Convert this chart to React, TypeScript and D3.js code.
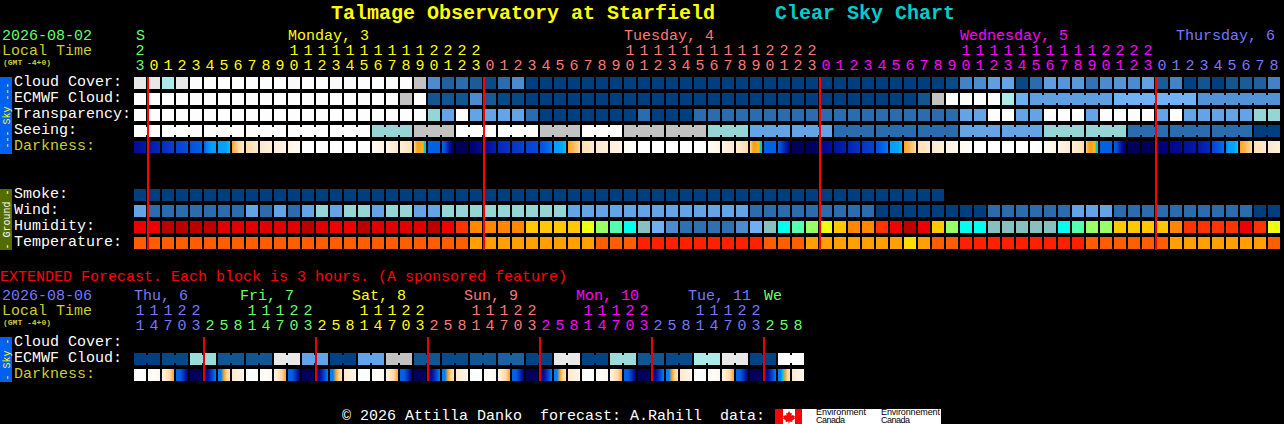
import React from "react";
import * as d3 from "d3";

// ---------- colours ----------
const GREEN = "#66FF66";
const YELLOW = "#FFFF00";
const SALMON = "#FF7777";
const MAGENTA = "#FF00FF";
const BLUE = "#7777FF";
const DIM = "#CCCC33";

const skyLevels = [0, 1, 2, 3, 4, 5, 6, 7, 8, 9, 10];
const skyColors = ["#003F7F", "#13558F", "#2B6CAE", "#4C8BCF", "#63A3E6", "#70B2F4", "#95D5D5", "#AEEAEA", "#C2C2C2", "#E8E8E8", "#FDFDFD"];
const humidityColors = ["#BB0000", "#E00000", "#EE0000", "#FF3300", "#FF8800", "#FFC800", "#EEFF11", "#99FF66", "#55FFB0", "#00FFEE", "#88C0C0", "#70B0F0", "#4C8BCF", "#2F70B0"];
const temperatureColors = ["#FF2000", "#FF5E00", "#FFA000", "#FFDD00"];
const darkLevels = [0, 1, 2, 3, 4, 4.5, 5, 6, 7, 8, 9, 10, 11];
const darkColors = ["#FFFFFF", "#FFF4E6", "#FFE8CC", "#FFD8A0", "#FFA020", "#FFB800", "#00C8E0", "#00A0FF", "#0060E8", "#0840D0", "#0018A8", "#000080", "#000058"];

// ---------- hours and days ----------
const mainHours = [23, 0, 1, 2, 3, 4, 5, 6, 7, 8, 9, 10, 11, 12, 13, 14, 15, 16, 17, 18, 19, 20, 21, 22, 23, 0, 1, 2, 3, 4, 5, 6, 7, 8, 9, 10, 11, 12, 13, 14, 15, 16, 17, 18, 19, 20, 21, 22, 23, 0, 1, 2, 3, 4, 5, 6, 7, 8, 9, 10, 11, 12, 13, 14, 15, 16, 17, 18, 19, 20, 21, 22, 23, 0, 1, 2, 3, 4, 5, 6, 7, 8];
const mainDayStarts = [0, 1, 25, 49, 73];
const mainDayColors = [GREEN, YELLOW, SALMON, MAGENTA, BLUE, BLUE];
const mainDayLabels = ["S", "Monday, 3", "Tuesday, 4", "Wednesday, 5", "Thursday, 6"];
const mainDayLabelCols = [0.14, 11, 35, 59, 74.43];
const mainMidnights = [1, 25, 49, 73];

const extHours = [11, 14, 17, 20, 23, 2, 5, 8, 11, 14, 17, 20, 23, 2, 5, 8, 11, 14, 17, 20, 23, 2, 5, 8, 11, 14, 17, 20, 23, 2, 5, 8, 11, 14, 17, 20, 23, 2, 5, 8, 11, 14, 17, 20, 23, 2, 5, 8];
const extDayStarts = [0, 5, 13, 21, 29, 37, 45];
const extDayColors = [BLUE, GREEN, YELLOW, SALMON, MAGENTA, BLUE, GREEN, GREEN];
const extDayLabels = ["Thu, 6", "Fri, 7", "Sat, 8", "Sun, 9", "Mon, 10", "Tue, 11", "We"];
const extDayLabelCols = [0, 7.57, 15.57, 23.57, 31.57, 39.57, 45];
const extMidnights = [5, 13, 21, 29, 37, 45];

// ---------- sky rows (palette levels) ----------
const cloudCover = [9, 9, 7, 9, 10, 10, 10, 10, 10, 10, 10, 9.8, 10, 10, 9.8, 9.8, 10, 10, 9.8, 10, 8, 3, 1.5, 2, 1.3, 0.5, 2, 3, 0, 0, 0, 0, 0, 0, 0, 0, 0, 0, 0, 0, 0, 0, 0, 0, 0, 0, 0, 0, 0, 0, 0, 0, 0, 0, 0, 0, 0, 0, 0.5, 2.7, 3, 3.8, 4, 0.4, 2, 3.8, 3.4, 3.6, 2.2, 3, 3.4, 3, 3.9, 1.3, 2.7, 0.1, 1, 0, 1, 1.3, 1.5, 2.7];
const ecmwfCloud = [10, 10, 10, 10, 10, 10, 10, 10, 10, 10, 10, 10, 10, 10, 10, 10, 10, 10, 10, 8, 10, 1, 1, 1, 3, 1.2, 0.4, 0.4, 0, 0, 0, 0, 0, 0, 0, 0, 0, 0, 0, 0, 0, 0, 0, 0, 0, 0, 0, 0, 0, 0, 0, 0, 0, 0, 0, 0, 1, 8, 10, 10, 10, 10, 7, 4.8, 3.8, 3.8, 3.8, 3.8, 3.8, 3.8, 5, 5, 5, 5, 5, 5, 3.3, 3.3, 3.3, 3.3, 3.3, 3.3];
const ecmwfGroups = [1, 1, 1, 1, 1, 1, 1, 1, 1, 1, 1, 1, 1, 1, 1, 1, 1, 1, 1, 1, 1, 1, 1, 1, 1, 1, 1, 1, 1, 1, 1, 1, 1, 1, 1, 1, 1, 1, 1, 1, 1, 1, 1, 1, 1, 1, 1, 1, 1, 1, 1, 1, 1, 1, 1, 1, 1, 1, 1, 1, 1, 1, 1, 1, 6, 6, 6];
const transparency = [10, 10, 10, 10, 10, 10, 10, 10, 10, 10, 10, 10, 10, 10, 10, 10, 10, 10, 10, 10, 10, 6, 4, 10, 4, 4, 4, 4, 2, 0, 0, 0, 0, 0, 0, 0, 2, 0, 0, 0, 2, 2, 2, 2, 2, 2, 2, 2, 2, 2, 2, 2, 2, 2, 2, 2, 2, 2, 2, 4, 4, 10, 10, 4, 4, 10, 10, 10, 4, 10, 10, 10, 10, 4, 10, 4, 4, 4, 4, 4, 6, 6];
const seeingBlocks = [10, 10, 10, 10, 10, 10, 6, 8, 10, 10, 8, 10, 8, 8, 6, 4, 4, 2, 2, 2, 4, 4, 6, 6, 2, 2, 2, 0];
const seeingGroups = [2, 3, 3, 3, 3, 3, 3, 3, 3, 3, 3, 3, 3, 3, 3, 3, 3, 3, 3, 3, 3, 3, 3, 3, 3, 3, 3, 2];

// ---------- darkness (several samples across each block) ----------
const darkness: number[][] = [
  [9.5, 9], [9, 8.6], [8.5, 8], [8, 7.5], [7.5, 7], [7, 6.3, 6, 6], [6, 6, 6, 6, 6, 5.5, 5], [4, 3.5, 3, 2.5, 2], [2.8, 2.4, 2], [2, 1.5], [1.5, 1], [1, 0.5],
  [0, 0], [0, 0], [0, 0], [0, 0], [0, 0.1], [0.5, 1.2], [1, 2], [1.5, 2.5], [3, 3.5, 4, 4, 4, 4.5, 4.5, 5, 5], [7, 7], [6.8, 8, 9.5, 11], [11, 11],
  [10.5, 9.5], [9.5, 8.8], [8.6, 8.3], [8.3, 8], [8, 7.7], [7.5, 7, 6.6], [6, 6, 6, 5.6, 5], [4, 3.5, 3], [2.5, 2], [2, 1.5], [1.5, 1], [0.5, 0],
  [0, 0], [0, 0], [0, 0], [0, 0], [0, 0.3], [0.5, 1], [1, 2], [1.5, 2.8], [3, 3.5, 4, 4, 4, 4.5, 4.5, 5, 5], [7, 7], [7, 8.5, 10], [11, 11],
  [11, 10.5], [9.8, 9.3], [9.2, 8.8], [8.7, 8.3], [8.3, 8], [7.6, 7, 6.6], [6, 6, 6, 5.6, 5], [4, 3.5, 3], [2.5, 2], [2, 1.5], [1.2, 0.8], [0.5, 0.2],
  [0, 0], [0, 0], [0, 0], [0, 0], [0, 0.3], [0.5, 1], [1, 1.8], [1.5, 2.6], [3, 3.7, 4, 4, 4, 4.5, 4.5, 5, 5], [7, 7], [7, 8, 9.5, 10.5], [11, 11],
  [11, 11], [10.5, 10], [9.7, 9.5], [9.3, 9], [9, 8.6], [8, 7.3, 6.8], [6.5, 6, 6, 6, 5.5, 5], [4, 3.5, 3], [2.5, 2], [2, 1.5],
];

// ---------- ground rows ----------
const smoke = [0, 0, 0, 0, 0, 0, 0, 0, 0, 0, 0, 0, 0, 0, 0, 0, 0, 0, 0, 0, 0, 0, 0, 0, 0, 0, 0, 0, 0, 0, 0, 0, 0, 0, 0, 0, 0, 0, 0, 0, 0, 0, 0, 0, 0, 0, 0, 0, 0, 0, 0, 0, 0, 0, 0, 0, 0, 0];
const wind = [4, 2, 2, 2, 2, 2, 2, 2, 4, 2, 4, 2, 4, 6, 4, 6, 6, 4, 6, 6, 4, 4, 6, 6, 6, 6, 6, 6, 6, 6, 6, 4, 4, 4, 4, 4, 4, 4, 4, 4, 4, 4, 4, 4, 2, 2, 2, 2, 2, 2, 2, 2, 2, 0, 0, 0, 0, 0, 0, 0, 0, 2, 2, 2, 2, 2, 2, 4, 4, 4, 2, 2, 2, 2, 2, 2, 2, 2, 2, 2, 0, 0];
const humidity = [2, 2, 0, 0, 0, 0, 1, 1, 1, 1, 1, 1, 0, 1, 2, 2, 0, 1, 1, 1, 1, 0, 2, 3, 4, 4, 4, 4, 5, 5, 5, 5, 6, 7, 8, 9, 10, 11, 12, 13, 13, 13, 13, 12, 11, 10, 9, 8, 7, 6, 5, 4, 4, 3, 2, 0, 2, 5, 7, 9, 9, 10, 10, 10, 10, 10, 9, 8, 7, 7, 5, 5, 5, 5, 4, 3, 3, 3, 3, 2, 3, 6];
const temperature = [1, 1, 1, 1, 1, 1, 1, 1, 1, 1, 1, 1, 1, 1, 1, 1, 1, 1, 1, 1, 1, 1, 1, 1, 2, 2, 2, 2, 2, 2, 2, 2, 2, 1, 1, 1, 0, 0, 0, 0, 0, 0, 0, 0, 0, 1, 1, 1, 2, 2, 2, 2, 2, 2, 2, 3, 2, 1, 1, 0, 0, 0, 0, 0, 0, 0, 0, 0, 1, 1, 1, 1, 1, 1, 2, 2, 2, 2, 2, 2, 2, 1];

// ---------- extended forecast ----------
const extCloudBlocks = [0, 0.4, 6.3, 1, 1, 9, 4, 0.1, 4, 8, 1, 0.5, 1, 1.5, 0.2, 9, 0.2, 6.3, 1, 0.5, 7, 9, 0.2, 10];
const extGroups = [2, 2, 2, 2, 2, 2, 2, 2, 2, 2, 2, 2, 2, 2, 2, 2, 2, 2, 2, 2, 2, 2, 2, 2];
const extDarkness: number[][] = [
  [0, 0], [0, 0.7], [1, 2, 3, 4], [7, 7, 8.5, 10.5], [11, 11], [10, 9.5, 8, 6.5], [6.5, 6.5, 4, 3, 2.5], [2, 1.5, 0.7],
  [0, 0], [0, 0.7], [1, 2, 3, 4], [7, 7, 8.5, 10.5], [11, 11], [10, 9.5, 8, 6.5], [6.5, 6.5, 4, 3, 2.5], [2, 1.5, 0.7],
  [0, 0], [0, 0.7], [1, 2, 3, 4], [7, 7, 8.5, 10.5], [11, 11], [10, 9.5, 8, 6.5], [6.5, 6.5, 4, 3, 2.5], [2, 1.5, 0.7],
  [0, 0], [0, 0.7], [1, 2, 3, 4], [7, 7, 8.5, 10.5], [11, 11], [10, 9.5, 8, 6.5], [6.5, 6.5, 4, 3, 2.5], [2, 1.5, 0.7],
  [0, 0], [0, 0.7], [1, 2, 3, 4], [7, 7, 8.5, 10.5], [11, 11], [10, 9.5, 8, 6.5], [6.5, 6.5, 4, 3, 2.5], [2, 1.5, 0.7],
  [0, 0], [0, 0.7], [1, 2, 3, 4], [7, 7, 8.5, 10.5], [11, 11], [10, 9.5, 8, 6.5], [6.5, 6.5, 5, 4, 3, 2.5], [2, 1.2, 0.7],
];

// ---------- scales and helpers ----------
const CELL = 12;
const x = d3.scaleLinear().domain([0, 82]).range([134, 1282]);
const skyColor = d3.scaleLinear<string>().domain(skyLevels).range(skyColors).clamp(true);
const darkColor = d3.scaleLinear<string>().domain(darkLevels).range(darkColors).clamp(true);

const MONO = "'Liberation Mono', 'DejaVu Sans Mono', monospace";

const expand = (blocks: number[], sizes: number[]) =>
  blocks.flatMap((v, i) => d3.range(sizes[i]).map(() => v));

function joinFlags(sizes: number[]): boolean[] {
  const out: boolean[] = [];
  sizes.forEach((s) => d3.range(s).forEach((j) => out.push(j < s - 1)));
  return out;
}

const dayColor = (starts: number[], colors: string[], k: number) =>
  colors[d3.bisectRight(starts, k) - 1];

const T = ({ xx, y, c = "#fff", s = 15, b = false, a, children }: any) => (
  <text x={xx} y={y} fill={c} fontSize={s} fontWeight={b ? "bold" : "normal"} fontFamily={MONO} textAnchor={a} style={{ whiteSpace: "pre" }}>
    {children}
  </text>
);

const Row = ({ y, values, color, joins }: { y: number; values: number[]; color: (v: number) => string; joins?: boolean[] }) => (
  <g>
    {values.map((v, k) => (
      <rect key={k} x={x(k)} y={y} width={CELL} height={CELL} fill={color(v)} shapeRendering="crispEdges" />
    ))}
    {joins &&
      values.map((v, k) =>
        joins[k] ? (
          <rect key={"j" + k} x={x(k) + CELL} y={y + 2} width={x(1) - x(0) - CELL} height={CELL - 4} fill={color(v)} shapeRendering="crispEdges" />
        ) : null
      )}
  </g>
);

const DarkRow = ({ id, y, samples }: { id: string; y: number; samples: number[][] }) => (
  <g>
    <defs>
      {samples.map((s, k) => (
        <linearGradient key={k} id={`${id}${k}`} x1="0" x2="1" y1="0" y2="0">
          {s.map((v, i) => (
            <stop key={i} offset={i / (s.length - 1)} stopColor={darkColor(v)} />
          ))}
        </linearGradient>
      ))}
    </defs>
    {samples.map((_, k) => (
      <rect key={k} x={x(k)} y={y} width={CELL} height={CELL} fill={`url(#${id}${k})`} shapeRendering="crispEdges" />
    ))}
  </g>
);

const SideBar = ({ y, h, fill, c, label }: any) => (
  <g>
    <rect x={0} y={y} width={12} height={h} fill={fill} shapeRendering="crispEdges" />
    <text transform={`translate(9.5,${y + h / 2}) rotate(-90)`} fill={c} fontSize={10} fontFamily={MONO} textAnchor="middle" style={{ whiteSpace: "pre" }}>
      {label}
    </text>
  </g>
);

const Hours = ({ hours, starts, colors, tensY, onesY }: any) => (
  <g>
    {hours.map((h: number, k: number) => {
      const c = dayColor(starts, colors, k);
      return (
        <g key={k}>
          {h >= 10 && <T xx={x(k) + CELL / 2} y={tensY} c={c} a="middle">{Math.floor(h / 10)}</T>}
          <T xx={x(k) + CELL / 2} y={onesY} c={c} a="middle">{h % 10}</T>
        </g>
      );
    })}
  </g>
);

export default function App() {
  const seeing = expand(seeingBlocks, seeingGroups);
  const extCloud = expand(extCloudBlocks, extGroups);
  return (
    <svg width={1284} height={424} viewBox="0 0 1284 424" style={{ position: "absolute", left: 0, top: 0, display: "block", background: "#000" }}>
      <rect width={1284} height={424} fill="#000" />

      <T xx={331} y={19} c={YELLOW} s={20} b>Talmage Observatory at Starfield</T>
      <T xx={775} y={19} c="#00CCCC" s={20} b>Clear Sky Chart</T>

      {/* main header */}
      <T xx={2} y={40} c={GREEN}>2026-08-02</T>
      <T xx={2} y={55} c={DIM}>Local Time</T>
      <T xx={3} y={65} c={DIM} s={8} b>(GMT -4+0)</T>
      {mainDayLabels.map((l, i) => (
        <T key={l} xx={x(mainDayLabelCols[i])} y={40} c={dayColor(mainDayStarts, mainDayColors, mainDayLabelCols[i] < 1 ? 0 : mainDayLabelCols[i])}>{l}</T>
      ))}
      <Hours hours={mainHours} starts={mainDayStarts} colors={mainDayColors} tensY={55} onesY={70} />

      {/* main labels */}
      <SideBar y={77} h={77} fill="#0060F0" c={YELLOW} label="--- Sky ---" />
      <SideBar y={189} h={61} fill="#556B00" c="#fff" label="- Ground -" />
      {["Cloud Cover:", "ECMWF Cloud:", "Transparency:", "Seeing:"].map((l, i) => (
        <T key={l} xx={14} y={86 + 16 * i}>{l}</T>
      ))}
      <T xx={14} y={150} c={DIM}>Darkness:</T>
      {["Smoke:", "Wind:", "Humidity:", "Temperature:"].map((l, i) => (
        <T key={l} xx={14} y={198 + 16 * i}>{l}</T>
      ))}

      {/* main rows */}
      <Row y={77} values={cloudCover} color={skyColor} />
      <Row y={93} values={ecmwfCloud} color={skyColor} joins={joinFlags(ecmwfGroups)} />
      <Row y={109} values={transparency} color={skyColor} />
      <Row y={125} values={seeing} color={skyColor} joins={joinFlags(seeingGroups)} />
      <DarkRow id="dk" y={141} samples={darkness} />
      <Row y={189} values={smoke} color={skyColor} />
      <Row y={205} values={wind} color={skyColor} />
      <Row y={221} values={humidity} color={(v) => humidityColors[v]} />
      <Row y={237} values={temperature} color={(v) => temperatureColors[v]} />

      {mainMidnights.map((k) => (
        <rect key={k} x={x(k) - 1} y={77} width={2} height={173} fill="#FF0000" shapeRendering="crispEdges" />
      ))}

      {/* extended */}
      <T xx={0} y={281} c="#FF0000">EXTENDED Forecast. Each block is 3 hours. (A sponsored feature)</T>
      <T xx={2} y={300} c={BLUE}>2026-08-06</T>
      <T xx={2} y={315} c={DIM}>Local Time</T>
      <T xx={3} y={325} c={DIM} s={8} b>(GMT -4+0)</T>
      {extDayLabels.map((l, i) => (
        <T key={l} xx={x(extDayLabelCols[i])} y={300} c={dayColor(extDayStarts, extDayColors, Math.ceil(extDayLabelCols[i]))}>{l}</T>
      ))}
      <Hours hours={extHours} starts={extDayStarts} colors={extDayColors} tensY={315} onesY={330} />

      <SideBar y={337} h={45} fill="#0060F0" c={YELLOW} label="- Sky -" />
      <T xx={14} y={346}>Cloud Cover:</T>
      <T xx={14} y={362}>ECMWF Cloud:</T>
      <T xx={14} y={378} c={DIM}>Darkness:</T>

      <Row y={353} values={extCloud} color={skyColor} joins={joinFlags(extGroups)} />
      <DarkRow id="ek" y={369} samples={extDarkness} />
      {extMidnights.map((k) => (
        <rect key={k} x={x(k) - 1} y={337} width={2} height={44} fill="#E80000" shapeRendering="crispEdges" />
      ))}

      {/* footer */}
      <T xx={342} y={420}>{"\u00A9 2026 Attilla Danko  forecast: A.Rahill  data:"}</T>
      <g>
        <rect x={775} y={409} width={166} height={15} fill="#fff" shapeRendering="crispEdges" />
        <rect x={775} y={409} width={8} height={15} fill="#FF0000" shapeRendering="crispEdges" />
        <rect x={795} y={409} width={7} height={15} fill="#FF0000" shapeRendering="crispEdges" />
        <path d="M789 411l1.5 2.5 1.5-.7-.6 3 1.8-1 .5 1.2 1.3-.3-.7 2.3.8.5-3 2.2.3 1.2-2.9-.4v2h-1v-2l-2.9.4.3-1.2-3-2.2.8-.5-.7-2.3 1.3.3.5-1.2 1.8 1-.6-3 1.5.7z" fill="#FF0000" />
        <text x={816} y={415} fontSize={9} fill="#000" fontFamily="'Liberation Sans', sans-serif" textLength={50}>Environment</text>
        <text x={816} y={423} fontSize={9} fill="#000" fontFamily="'Liberation Sans', sans-serif" textLength={29}>Canada</text>
        <text x={881} y={415} fontSize={9} fill="#000" fontFamily="'Liberation Sans', sans-serif" textLength={59}>Environnement</text>
        <text x={881} y={423} fontSize={9} fill="#000" fontFamily="'Liberation Sans', sans-serif" textLength={29}>Canada</text>
      </g>
    </svg>
  );
}
